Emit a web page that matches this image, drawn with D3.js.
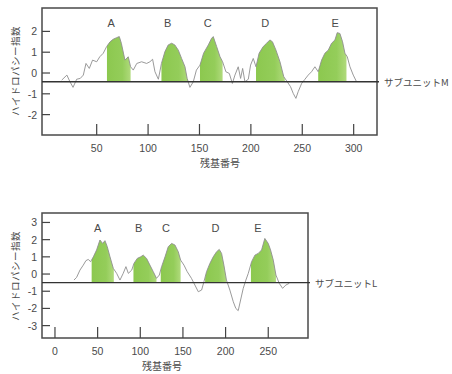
<!DOCTYPE html>
<html lang="ja">
<head>
  <meta charset="UTF-8" />
  <title>ハイドロパシー</title>
  <script src="https://d3js.org/d3.v7.min.js"></script>
  <style>
    body { margin: 0; background: #fff; }
    svg { display: block; }
    text { font-family: 'Liberation Sans', sans-serif; fill: #4a4a4a; }
    .jp { font-family: 'Noto Sans CJK JP', sans-serif; }
  </style>
</head>
<body>
<svg id="chart" width="452" height="374"></svg>
<script>
  // サブユニットM のプロファイル [残基番号, 指数]
  const profileM = [
    [16, -0.34], [21, -0.1], [24, -0.42], [27, -0.69], [30.5, -0.3], [34, -0.26], [37, -0.1],
    [39.6, 0.46], [42.8, 0.22], [46, 0.62], [50, 0.54], [53, 0.78], [56.4, 0.95], [59.7, 1.27],
    [63, 1.5], [66, 1.62], [69.4, 1.7], [72, 1.75], [74, 1.43], [77.5, 0.62], [80.7, 0.78],
    [83, 0.3], [85.6, 0.14], [89, 0.46], [93.7, 0.54], [98.6, 0.46], [101.8, 0.54], [104.4, 0.66],
    [106.7, 0.06], [110, -0.3], [113, 0.46], [116.4, 1.03], [119.6, 1.35], [122.9, 1.43],
    [126, 1.35], [129.4, 1.1], [132.6, 0.7], [135.9, 0.3], [138, -0.26], [140.7, -0.69],
    [144, -0.42], [147, 0.14], [150.5, 0.38], [154, 0.95], [158.6, 1.35], [161.8, 1.67],
    [163.4, 1.75], [166.7, 1.27], [170, 0.78], [172.5, 0.54], [175.7, 0.06], [179, -0.02],
    [182, -0.5], [184.5, -0.1], [187.7, 0.3], [190, -0.26], [192, 0.22], [194.2, -0.42],
    [197.5, -0.3], [199.7, 0.38], [202.3, 0.7], [205, 0.3], [208, 0.95], [212, 1.27],
    [215.3, 1.43], [218.5, 1.59], [221, 1.5], [224.4, 1.1], [228.3, 0.54], [232, -0.18],
    [235.4, -0.42], [238.6, -0.66], [241.2, -0.98], [243.8, -1.22], [246, -0.9], [249.4, -0.5],
    [252.6, -0.3], [255.8, -0.1], [259, 0.06], [262.3, 0.3], [265.5, 0.06], [268.8, 0.62],
    [272, 0.95], [275.3, 1.1], [278.5, 1.43], [281.8, 1.59], [284, 1.94], [286.6, 1.9],
    [289.2, 1.5], [291.5, 0.95], [293.8, 0.78], [296.4, 0.3], [299.6, -0.1], [302.8, -0.42]
  ];
  // サブユニットL のプロファイル
  const profileL = [
    [22.3, -0.35], [25.4, -0.19], [29.3, 0.23], [33.2, 0.52], [36.3, 0.78], [39, 0.85],
    [41.8, 0.72], [45, 1.0], [48.8, 1.4], [52.7, 1.98], [55.9, 1.78], [58.6, 1.94], [61.3, 1.59],
    [64.5, 1.0], [68.4, 0.33], [72.3, 0.04], [76.2, -0.35], [80, 0.04], [83.2, 0.43], [86, 0.04],
    [90, 0.23], [92.6, 0.62], [96.5, 0.91], [100.4, 1.0], [103.5, 1.1], [107.4, 0.91],
    [111.3, 0.52], [115.2, 0.14], [119, -0.25], [122.3, -0.06], [125, 0.43], [129, 1.0],
    [132.8, 1.59], [136.7, 1.78], [140.6, 1.69], [144.5, 1.3], [147.3, 0.81], [151.2, 0.52],
    [155, 0.14], [160, -0.25], [164, -0.64], [168, -1.03], [171.9, -0.93], [174.6, -0.45],
    [177.7, 0.14], [181.6, 0.62], [185.5, 1.0], [189.5, 1.3], [192.6, 1.43], [195.3, 1.2],
    [198, 0.52], [201, -0.35], [205, -0.93], [209, -1.61], [212, -2.0], [214.8, -2.13],
    [217.6, -1.51], [220.7, -0.83], [223.8, -0.35], [226.6, 0.04], [230.5, 0.72], [234.4, 1.1],
    [238.3, 1.2], [242.2, 1.4], [246, 2.07], [250, 1.78], [252.7, 1.4], [255.9, 0.81],
    [259, -0.06], [262.9, -0.54], [266.8, -0.83], [270.7, -0.64], [274.6, -0.54]
  ];

  const segNames = ["A", "B", "C", "D", "E"];
  const segM = [[60, 83], [113, 139], [150.5, 172.5], [205, 233], [265.5, 293]];
  const segL = [[43, 69], [92, 119], [124, 147.3], [176, 201], [229.7, 259]];
  const labelXM = [64, 119, 158, 214, 282];
  const labelXL = [50, 98, 130, 188, 238];

  const ticksXM = [50, 100, 150, 200, 250, 300];
  const ticksYM = [2, 1, 0, -1, -2];
  const ticksXL = [0, 50, 100, 150, 200, 250];
  const ticksYL = [3, 2, 1, 0, -1, -2, -3];

  const svg = d3.select("#chart");
  const defs = svg.append("defs");

  // 1つのパネルを描画
  function drawPanel(cfg) {
    const g = svg.append("g");
    const x = d3.scaleLinear().domain(cfg.xDomain).range([cfg.left, cfg.right]);
    const y = d3.scaleLinear().domain(cfg.yDomain).range([cfg.bottom, cfg.top]);
    const base = y(cfg.baseline);

    // 緑の疎水性領域
    cfg.segs.forEach((s, i) => {
      const cid = cfg.id + "clip" + i;
      const gid = cfg.id + "grad" + i;
      defs.append("clipPath").attr("id", cid).append("rect")
        .attr("x", x(s[0])).attr("y", cfg.top)
        .attr("width", x(s[1]) - x(s[0])).attr("height", base - cfg.top);
      const grad = defs.append("linearGradient").attr("id", gid)
        .attr("gradientUnits", "userSpaceOnUse")
        .attr("x1", x(s[0])).attr("x2", x(s[1])).attr("y1", 0).attr("y2", 0);
      grad.append("stop").attr("offset", "0%").attr("stop-color", "#8cc84f");
      grad.append("stop").attr("offset", "65%").attr("stop-color", "#94cd5a");
      grad.append("stop").attr("offset", "100%").attr("stop-color", "#b0da7c");
      g.append("path")
        .datum(cfg.data)
        .attr("clip-path", `url(#${cid})`)
        .attr("fill", `url(#${gid})`)
        .attr("d", d3.area()
          .x(d => x(d[0]))
          .y0(base)
          .y1(d => y(Math.max(d[1], cfg.baseline))));
    });

    // プロファイル線
    g.append("path")
      .datum(cfg.data)
      .attr("fill", "none")
      .attr("stroke", "#8f8f8f")
      .attr("stroke-width", 0.9)
      .attr("d", d3.line().x(d => x(d[0])).y(d => y(d[1])));

    // 枠
    g.append("rect")
      .attr("x", cfg.left).attr("y", cfg.top)
      .attr("width", cfg.right - cfg.left).attr("height", cfg.bottom - cfg.top)
      .attr("fill", "none").attr("stroke", "#4a4a4a").attr("stroke-width", 1.5);

    // 基準線
    g.append("line")
      .attr("x1", cfg.left).attr("x2", cfg.right + 2)
      .attr("y1", base).attr("y2", base)
      .attr("stroke", "#333").attr("stroke-width", 1.4);

    // y 目盛り
    cfg.yTicks.forEach(t => {
      g.append("line").attr("x1", cfg.left).attr("x2", cfg.left + 8)
        .attr("y1", y(t)).attr("y2", y(t)).attr("stroke", "#444").attr("stroke-width", 1.2);
      g.append("text").attr("x", cfg.left - 5).attr("y", y(t) + 4)
        .attr("text-anchor", "end").attr("font-size", 10.5).text(t);
    });
    // x 目盛り
    cfg.xTicks.forEach(t => {
      g.append("line").attr("x1", x(t)).attr("x2", x(t))
        .attr("y1", cfg.bottom).attr("y2", cfg.bottom - 11)
        .attr("stroke", "#444").attr("stroke-width", 1.2);
      g.append("text").attr("x", x(t)).attr("y", cfg.bottom + 17)
        .attr("text-anchor", "middle").attr("font-size", 10.5).text(t);
    });

    // 区間ラベル
    segNames.forEach((n, i) => {
      g.append("text").attr("x", x(cfg.labelX[i])).attr("y", cfg.top + 19)
        .attr("text-anchor", "middle").attr("font-size", 11).text(n);
    });

    g.append("text").attr("class", "jp")
      .attr("x", cfg.xLabelX).attr("y", cfg.bottom + 32)
      .attr("text-anchor", "middle").attr("font-size", 10).text("残基番号");

    g.append("text").attr("class", "jp")
      .attr("transform", `translate(19,${cfg.yLabelY}) rotate(-90)`)
      .attr("text-anchor", "middle").attr("font-size", 9.5)
      .attr("letter-spacing", 0.5).text("ハイドロパシー指数");

    g.append("text").attr("class", "jp")
      .attr("x", cfg.right + 7).attr("y", base + 4)
      .attr("font-size", 9.5).text(cfg.name);
  }

  drawPanel({
    id: "m", data: profileM, segs: segM, labelX: labelXM,
    xDomain: [-3.2, 322.7], yDomain: [-2.98, 3.125],
    left: 42, right: 377, top: 8, bottom: 135,
    baseline: -0.42, xTicks: ticksXM, yTicks: ticksYM, yLabelY: 71, xLabelX: 220,
    name: "サブユニットM"
  });
  drawPanel({
    id: "l", data: profileL, segs: segL, labelX: labelXL,
    xDomain: [-15.2, 296.6], yDomain: [-3.72, 3.55],
    left: 42, right: 308, top: 213, bottom: 338,
    baseline: -0.5, xTicks: ticksXL, yTicks: ticksYL, yLabelY: 276, xLabelX: 162,
    name: "サブユニットL"
  });
</script>
</body>
</html>
